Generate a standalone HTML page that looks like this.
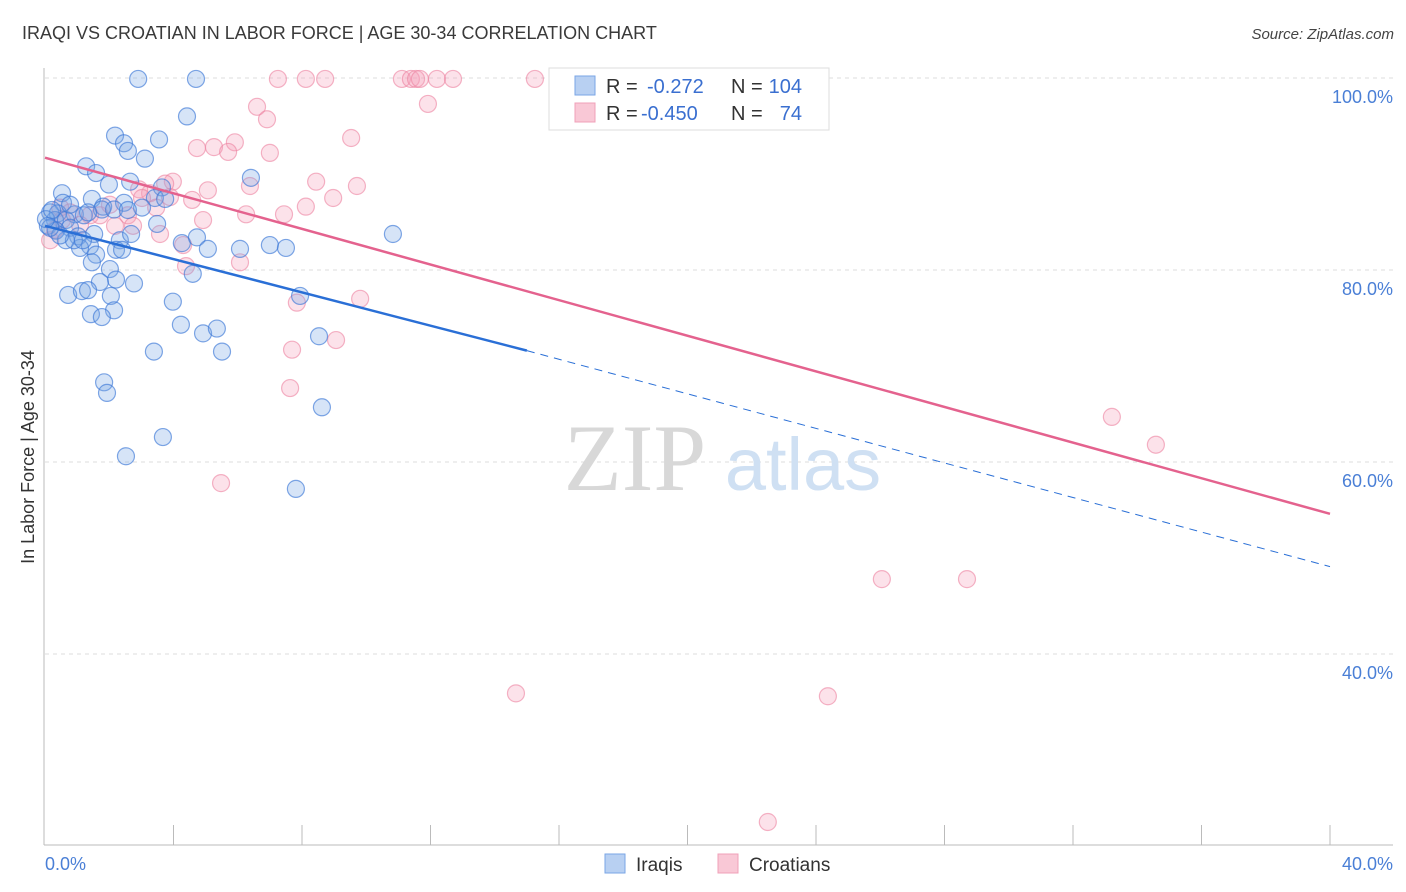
<!DOCTYPE html>
<html><head><meta charset="utf-8"><style>
body{margin:0;background:#fff;font-family:"Liberation Sans",sans-serif}
</style></head><body>
<svg id="chart" width="1406" height="892" xmlns="http://www.w3.org/2000/svg" style="display:block">
<text x="22" y="39" font-size="18" fill="#3a3a3a">IRAQI VS CROATIAN IN LABOR FORCE | AGE 30-34 CORRELATION CHART</text>
<text x="1394" y="39" font-size="15" fill="#444" text-anchor="end" font-style="italic">Source: ZipAtlas.com</text>
<g id="grid"></g>
<g>
<text x="635" y="490" font-size="95" fill="#d8d8d8" font-family="Liberation Serif,serif" text-anchor="middle">ZIP</text>
<text x="803" y="490" font-size="74" fill="#cfe0f3" text-anchor="middle">atlas</text>
</g>
<line x1="44" y1="68" x2="44" y2="845" stroke="#bbb"/>
<line x1="44" y1="845" x2="1393" y2="845" stroke="#bbb"/>
<g id="ticks"></g>
<text transform="translate(34,457) rotate(-90)" font-size="18" fill="#333" text-anchor="middle">In Labor Force | Age 30-34</text>
<text x="45" y="870" font-size="18" fill="#4a7fd6">0.0%</text>
<text x="1393" y="870" font-size="18" fill="#4a7fd6" text-anchor="end">40.0%</text>
<g id="pts"></g>
<g id="lines"></g>
<g>
<rect x="549" y="68" width="280" height="62" fill="#fff" stroke="#ddd"/>
<rect x="575" y="76" width="20" height="19" fill="#b8d0f2" stroke="#7aa6e6"/>
<rect x="575" y="103" width="20" height="19" fill="#f9c8d6" stroke="#f0a0b8"/>
<text x="606" y="93" font-size="20" fill="#333">R =</text>
<text x="647" y="93" font-size="20" fill="#3a6fd0">-0.272</text>
<text x="731" y="93" font-size="20" fill="#333">N =</text>
<text x="802" y="93" font-size="20" fill="#3a6fd0" text-anchor="end">104</text>
<text x="606" y="120" font-size="20" fill="#333">R =</text>
<text x="641" y="120" font-size="20" fill="#3a6fd0">-0.450</text>
<text x="731" y="120" font-size="20" fill="#333">N =</text>
<text x="802" y="120" font-size="20" fill="#3a6fd0" text-anchor="end">74</text>
</g>
<g>
<rect x="605" y="854" width="20" height="19" fill="#b8d0f2" stroke="#7aa6e6"/>
<text x="636" y="871" font-size="19" fill="#333">Iraqis</text>
<rect x="718" y="854" width="20" height="19" fill="#f9c8d6" stroke="#f0a0b8"/>
<text x="749" y="871" font-size="19" fill="#333">Croatians</text>
</g>
</svg>
<script>
const yTicks=[100,80,60,40];
const yTickLabels=["100.0%","80.0%","60.0%","40.0%"];
const blueX=[2.9,4.7,4.42,2.18,3.55,2.46,2.58,3.11,1.28,1.59,0.53,2.65,1.99,3.64,6.41,1.46,0.56,1.81,2.46,3.42,3.74,0.16,0.4,0.93,1.21,1.77,2.15,3.02,0.31,0.65,0.09,0.78,1.03,1.53,2.33,2.68,3.49,4.26,4.73,5.07,6.07,7.0,7.5,10.83,1.4,1.09,1.59,2.21,2.4,1.46,2.02,0.65,0.9,1.18,4.6,2.21,1.71,2.77,0.72,1.15,1.34,2.05,3.98,7.94,2.15,1.43,1.77,4.23,4.92,5.35,8.53,3.39,5.51,1.84,1.93,8.62,3.67,2.52,7.81,0.34,0.47,0.16,0.03,0.78,1.34,2.58,0.22];
const blueY=[99.9,99.9,96.0,94.0,93.6,93.2,92.4,91.6,90.8,90.1,88.0,89.2,88.9,88.6,89.6,87.4,87.0,86.6,87.0,87.5,87.4,86.0,85.9,85.8,85.7,86.3,86.3,86.5,85.2,85.2,84.6,84.4,83.5,83.75,83.1,83.75,84.8,82.8,83.4,82.2,82.2,82.6,82.3,83.75,82.5,82.3,81.6,82.1,82.1,80.8,80.1,83.1,83.1,83.1,79.6,79.0,78.75,78.6,77.4,77.8,77.9,77.3,76.7,77.3,75.8,75.4,75.1,74.3,73.4,73.9,73.1,71.5,71.5,68.3,67.2,65.7,62.6,60.6,57.2,84.1,83.6,84.4,85.3,86.8,86.0,86.25,86.25];
const pinkX=[7.25,8.12,8.72,11.11,11.39,11.55,11.67,12.2,12.7,15.25,23.28,6.6,6.91,11.92,9.53,5.91,4.73,5.26,5.7,7.0,8.44,9.71,3.98,5.07,6.38,3.74,3.27,2.93,8.97,8.12,4.58,7.44,6.26,4.92,2.58,3.46,1.71,1.4,0.78,0.53,0.16,2.18,2.74,3.58,4.3,4.39,6.07,9.81,7.84,9.06,7.69,7.63,5.48,33.21,34.58,26.05,28.7,14.66,24.37,22.5,0.47,1.09,2.02,3.02,3.89,0.31];
const pinkY=[99.9,99.9,99.9,99.9,99.9,99.9,99.9,99.9,99.9,99.9,99.9,97.0,95.7,97.3,93.75,93.3,92.7,92.8,92.3,92.2,89.2,88.75,89.2,88.3,88.75,89.0,88.0,88.4,87.5,86.6,87.3,85.8,85.8,85.2,85.7,86.5,85.7,85.7,86.0,85.2,83.1,84.6,84.6,83.75,82.6,80.4,80.8,77.0,76.6,72.7,71.7,67.7,57.8,64.7,61.8,47.8,47.8,35.9,35.6,22.5,86.5,84.7,86.8,87.5,87.6,84.2];
const blueTrend=[84.6,71.6,49.1]; // at x=0, 15, 40
const pinkTrend=[91.7,54.6]; // at x=0, 40
const NS="http://www.w3.org/2000/svg";
const xs=v=>45+v/40*1285;
const ys=v=>78+(100-v)*9.6;
function mk(tag,attrs,parent){const e=document.createElementNS(NS,tag);for(const k in attrs)e.setAttribute(k,attrs[k]);parent.appendChild(e);return e;}
const grid=document.getElementById('grid');
yTicks.forEach((t,i)=>{
 const l=mk('line',{x1:45,x2:1393,y1:ys(t),y2:ys(t),stroke:'#ddd','stroke-dasharray':'4,4'},grid);
 
 
 const tx=mk('text',{x:1393,y:ys(t)+25,'font-size':18,fill:'#4a7fd6','text-anchor':'end'},grid);
 tx.textContent=yTickLabels[i];
 
 
});
const ticks=document.getElementById('ticks');
for(let i=1;i<=10;i++){
 const l=mk('line',{x1:xs(i*4),x2:xs(i*4),y1:825,y2:845,stroke:'#bbb'},ticks);
 
 
}
const pts=document.getElementById('pts');
pinkX.forEach((x,i)=>{
 const c=mk('circle',{cx:xs(x),cy:ys(pinkY[i]),r:8.5,fill:'rgba(244,160,185,0.3)',stroke:'rgba(236,130,160,0.6)','stroke-width':1.2},pts);
 
 
});
blueX.forEach((x,i)=>{
 const c=mk('circle',{cx:xs(x),cy:ys(blueY[i]),r:8.5,fill:'rgba(120,165,230,0.3)',stroke:'rgba(60,120,215,0.65)','stroke-width':1.2},pts);
 
 
});
const lines=document.getElementById('lines');
let l1=mk('line',{x1:xs(0),y1:ys(blueTrend[0]),x2:xs(15),y2:ys(blueTrend[1]),stroke:'#2a6fd6','stroke-width':2.5},lines);


let l2=mk('line',{x1:xs(15),y1:ys(blueTrend[1]),x2:xs(40),y2:ys(blueTrend[2]),stroke:'#2a6fd6','stroke-width':1,'stroke-dasharray':'8,6'},lines);


let l3=mk('line',{x1:xs(0),y1:ys(pinkTrend[0]),x2:xs(40),y2:ys(pinkTrend[1]),stroke:'#e4628e','stroke-width':2.5},lines);


</script>
</body></html>
